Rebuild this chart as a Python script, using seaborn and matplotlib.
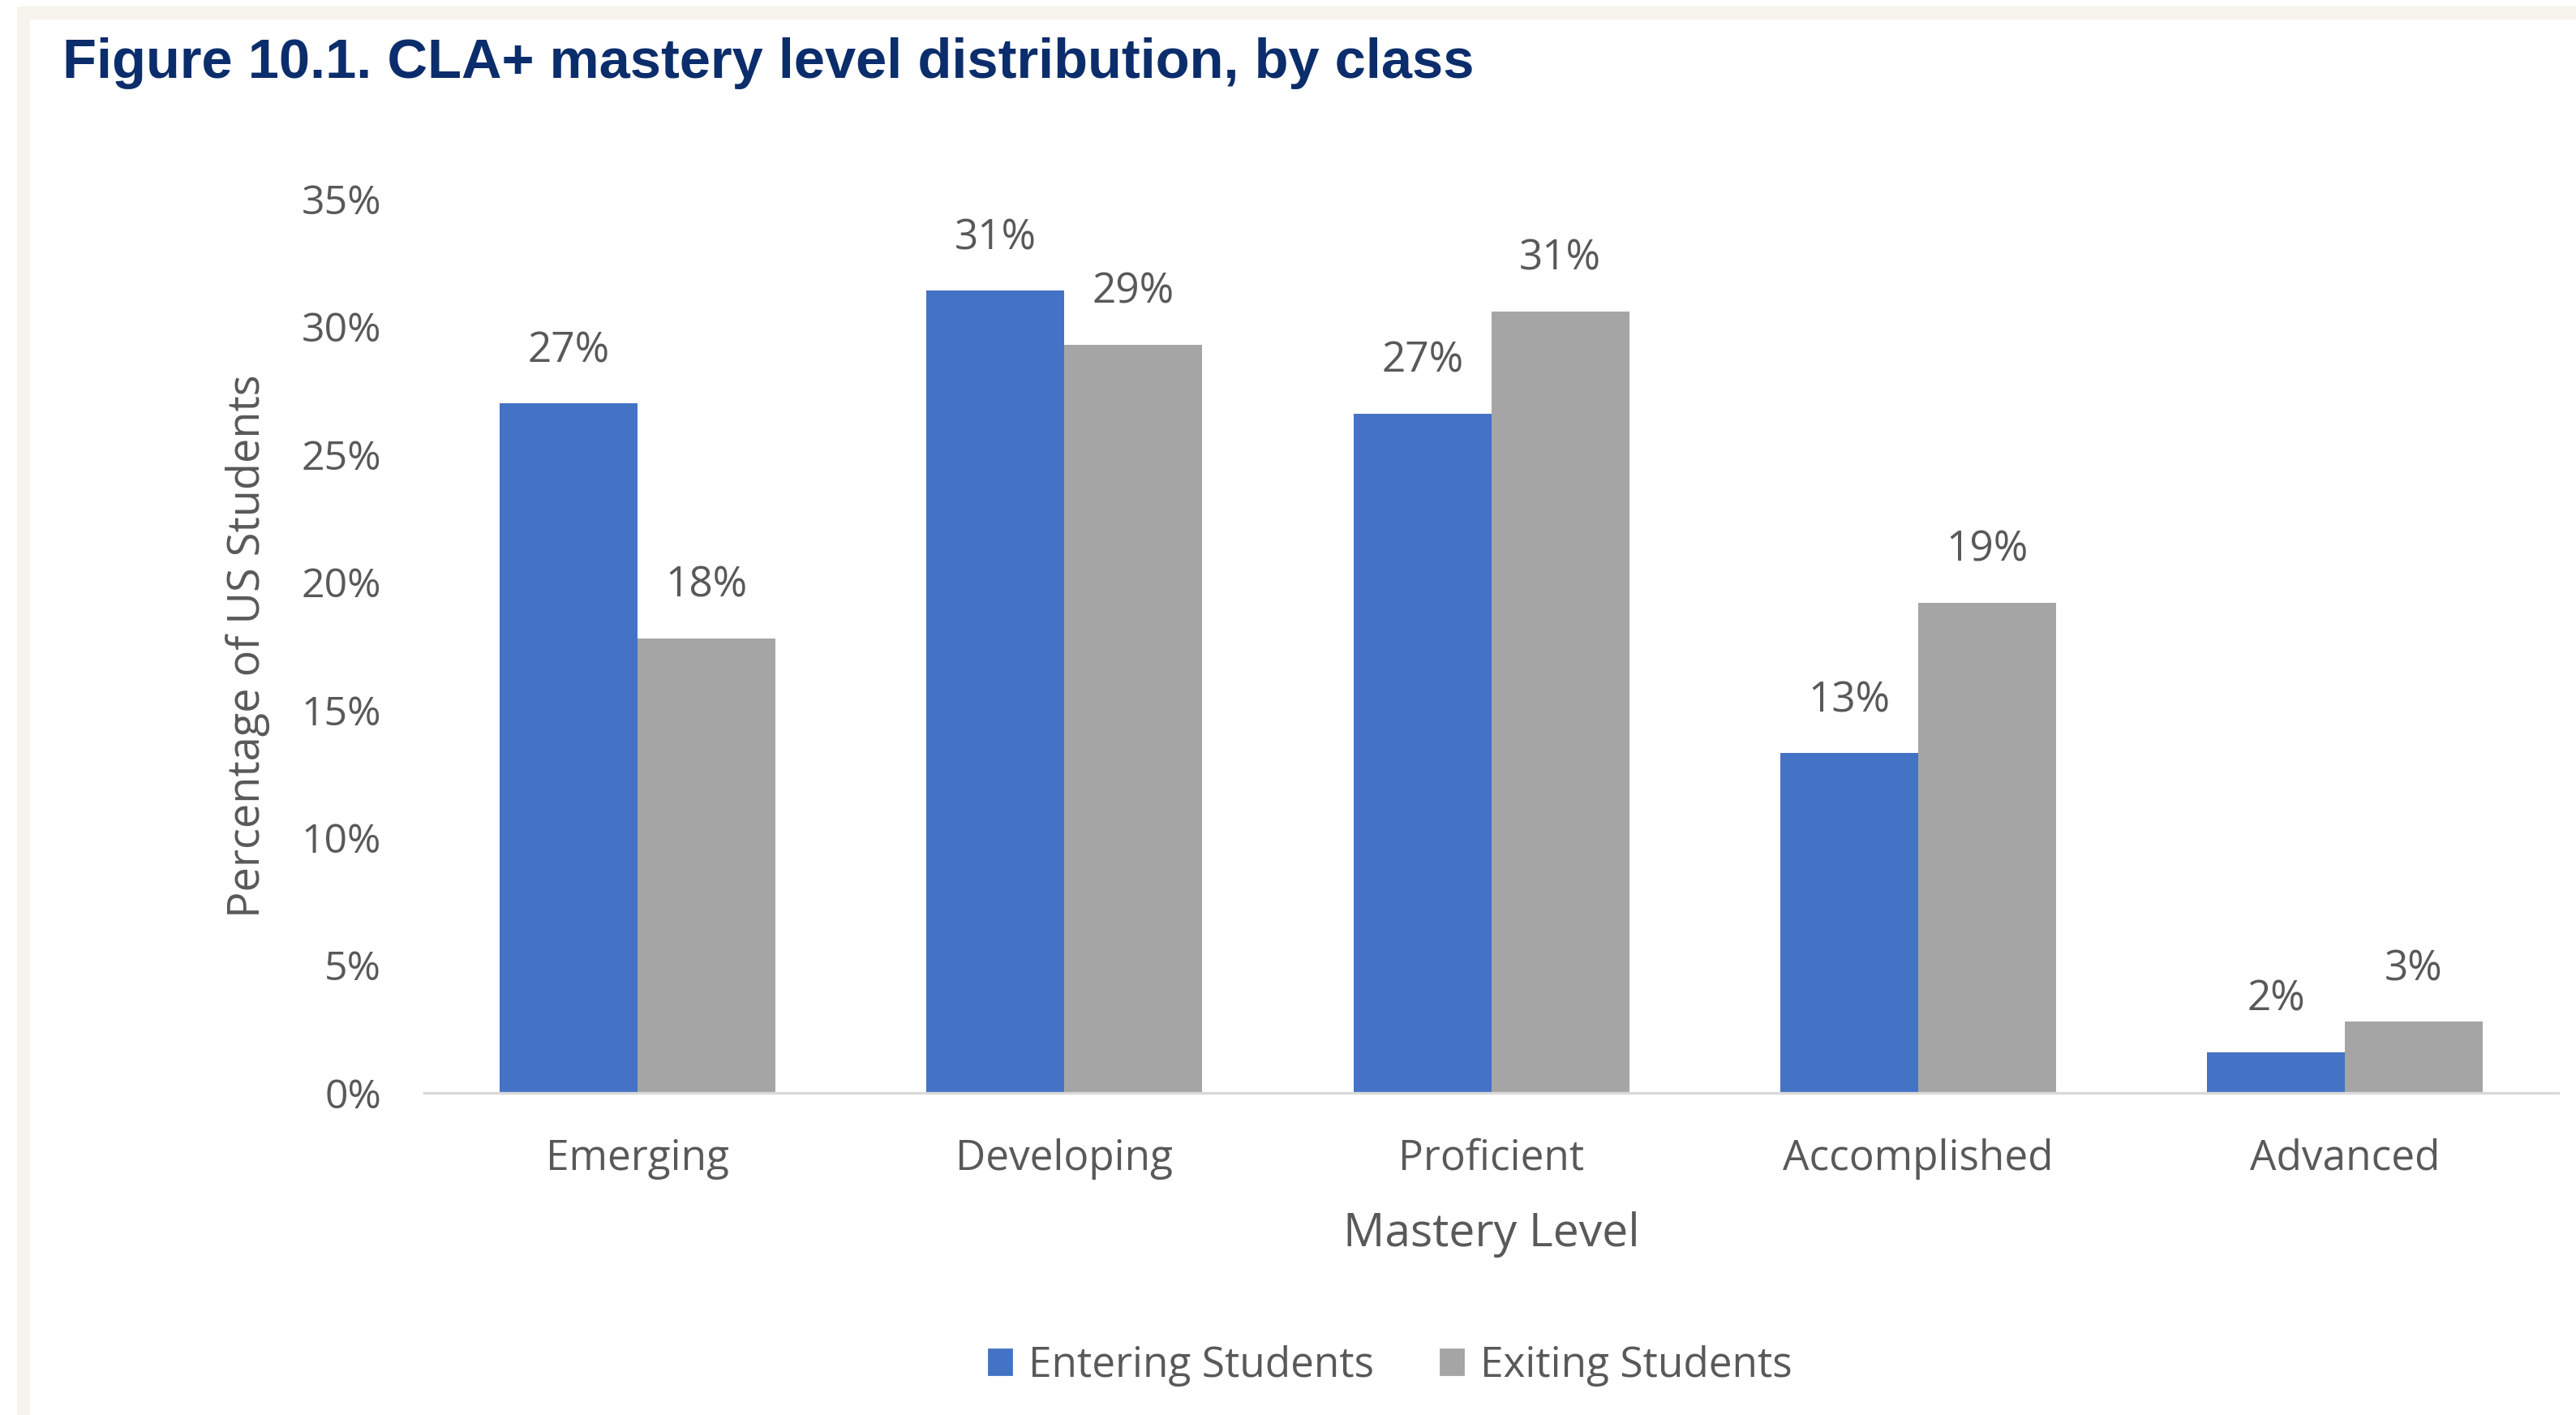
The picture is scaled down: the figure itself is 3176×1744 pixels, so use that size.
import pandas as pd
import matplotlib.pyplot as plt
import seaborn as sns
from matplotlib.patches import Rectangle

# Chart values
levels = ['Emerging', 'Developing', 'Proficient', 'Accomplished', 'Advanced']
entering = [27.0, 31.4, 26.6, 13.3, 1.6]
exiting = [17.8, 29.3, 30.6, 19.2, 2.8]
groups = ['Entering Students', 'Exiting Students']
yticks = [0, 5, 10, 15, 20, 25, 30, 35]

df = pd.DataFrame({
    'Level': levels * 2,
    'Group': [groups[0]] * len(levels) + [groups[1]] * len(levels),
    'Pct': entering + exiting,
})

sns.set_style('white')
plt.rcParams['font.family'] = ['Open Sans', 'DejaVu Sans']
text_col = '#595959'

fig = plt.figure(figsize=(15.88, 8.72), dpi=200)

# beige page frame around the chart
fig.patches.append(Rectangle((21 / 3176, 0), 1, 1 - 8 / 1744, transform=fig.transFigure,
                             facecolor='#f6f3ec', edgecolor='none', zorder=-2))
fig.patches.append(Rectangle((37 / 3176, 0), 1, 1 - 24 / 1744, transform=fig.transFigure,
                             facecolor='white', edgecolor='none', zorder=-1))

ax = fig.add_axes([0.1647, 0.2276, 0.8284, 0.6319])
ax.set_facecolor('none')

sns.barplot(data=df, x='Level', y='Pct', hue='Group', order=levels, hue_order=groups,
            palette=['#4472c4', '#a5a5a5'], width=0.646, gap=0, saturation=1,
            linewidth=0, ax=ax, legend=False)

for cont in ax.containers:
    ax.bar_label(cont, labels=[f'{v:.0f}%' for v in cont.datavalues], padding=14,
                 fontsize=18.5, color=text_col)

ax.set_xlim(-0.5, 4.5)
ax.set_ylim(0, 35)
ax.set_yticks(yticks)
ax.set_yticklabels([f'{t}%' for t in yticks])
ax.tick_params(axis='y', length=0, pad=19, labelsize=18, labelcolor=text_col)
ax.tick_params(axis='x', length=0, pad=20, labelsize=18.5, labelcolor=text_col)

for s in ['top', 'right', 'left']:
    ax.spines[s].set_visible(False)
ax.spines['bottom'].set_color('#d9d9d9')
ax.spines['bottom'].set_linewidth(1.2)

ax.set_xlabel('Mastery Level', fontsize=20.5, color=text_col, labelpad=14)
ax.set_ylabel('Percentage of US Students', fontsize=19.5, color=text_col, labelpad=14)

# legend below the axis title
handles = [Rectangle((0, 0), 1, 1, color=c) for c in ['#4472c4', '#a5a5a5']]
fig.legend(handles, groups, loc='center', bbox_to_anchor=(1714 / 3176, 1 - 1683 / 1744),
           ncol=2, frameon=False, fontsize=18.5, labelcolor=text_col,
           handlelength=0.55, handleheight=0.55, handletextpad=0.4, columnspacing=1.6)

fig.text(77 / 3176, 1 - 78 / 1744, 'Figure 10.1. CLA+ mastery level distribution, by class',
         family=['Liberation Sans Narrow', 'Liberation Sans'], fontweight='bold',
         fontsize=24.7, color='#0b2d6b', ha='left', va='center')

fig.savefig('out.png', dpi=200)
